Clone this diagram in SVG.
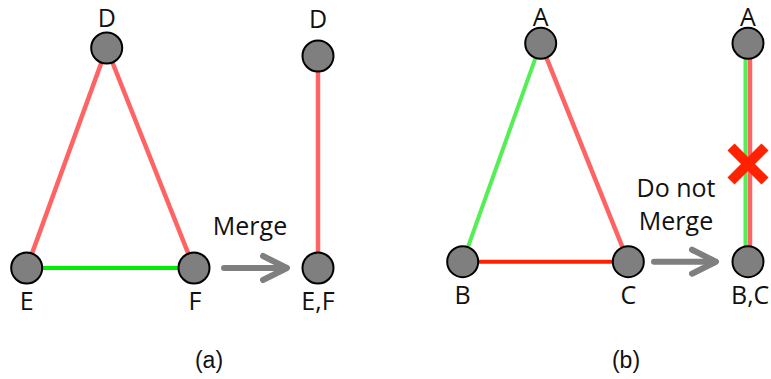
<svg xmlns="http://www.w3.org/2000/svg" width="771" height="379" viewBox="0 0 771 379">
<style>
.n{fill:#7f7f7f;stroke:#000;stroke-width:2}
.t{font-family:"Open Sans","Liberation Sans",sans-serif;font-size:25px;fill:#111;text-anchor:middle}
.c{font-family:"Liberation Sans",Arial,sans-serif;font-size:23px;fill:#111;text-anchor:middle}
.r{stroke:#ff6464;stroke-width:4.5;fill:none}
.g{stroke:#00ee00;stroke-width:4;fill:none}
.lg{stroke:#55ee55;stroke-width:4;fill:none}
.dr{stroke:#ff2200;stroke-width:4;fill:none}
.ar{stroke:#7f7f7f;stroke-width:6;fill:none;stroke-linecap:round;stroke-linejoin:round}
</style>
<g id="connectors">
<line class="r" x1="106.7" y1="48" x2="26.7" y2="268"/>
<line class="r" x1="106.7" y1="48" x2="194" y2="268"/>
<line class="g" x1="26.7" y1="268" x2="194" y2="268"/>
<line class="r" x1="318" y1="56" x2="318" y2="268"/>
<line class="lg" x1="540.7" y1="43.3" x2="462.7" y2="261.7"/>
<line class="r" x1="540.7" y1="43.3" x2="628.3" y2="261.7"/>
<line class="dr" x1="462.7" y1="261.7" x2="628.3" y2="261.7"/>
<line class="lg" x1="745.5" y1="43.3" x2="745.5" y2="261.7"/>
<line class="r" x1="750" y1="43.3" x2="750" y2="261.7"/>
<g id="arrow-a"><line class="ar" x1="224" y1="268" x2="285" y2="268"/><polyline class="ar" points="263,256 287,268 263,280"/></g>
<g id="arrow-b"><line class="ar" x1="654" y1="261.7" x2="714" y2="261.7"/><polyline class="ar" points="692,249.7 716,261.7 692,273.7"/></g>
</g>
<g id="cross"><path d="M731 147 L765 181 M765 147 L731 181" stroke="#ff2200" stroke-width="10" fill="none"/></g>
<g id="D"><circle class="n" cx="106.7" cy="48" r="15.5"/><text class="t" x="106.7" y="27">D</text></g>
<g id="E"><circle class="n" cx="26.7" cy="268" r="15.5"/><text class="t" x="26.7" y="310">E</text></g>
<g id="F"><circle class="n" cx="194" cy="268" r="15.5"/><text class="t" x="195" y="310">F</text></g>
<g id="D2"><circle class="n" cx="318" cy="56" r="15.5"/><text class="t" x="318" y="28">D</text></g>
<g id="EF"><circle class="n" cx="318" cy="268" r="15.5"/><text class="t" x="318" y="310">E,F</text></g>
<g id="A"><circle class="n" cx="540.7" cy="43.3" r="15.5"/><text class="t" x="540.7" y="25.5">A</text></g>
<g id="B"><circle class="n" cx="462.7" cy="261.7" r="15.5"/><text class="t" x="462.7" y="304">B</text></g>
<g id="C"><circle class="n" cx="628.3" cy="261.7" r="15.5"/><text class="t" x="628.3" y="304">C</text></g>
<g id="A2"><circle class="n" cx="748" cy="43.3" r="15.5"/><text class="t" x="748" y="25.5">A</text></g>
<g id="BC"><circle class="n" cx="748" cy="261.7" r="15.5"/><text class="t" x="731" y="304" style="text-anchor:start">B,C</text></g>
<text class="t" x="250" y="235">Merge</text>
<text class="t" x="676" y="197">Do not</text>
<text class="t" x="676" y="230">Merge</text>
<text class="c" x="209" y="368">(a)</text>
<text class="c" x="626" y="368">(b)</text>
</svg>
